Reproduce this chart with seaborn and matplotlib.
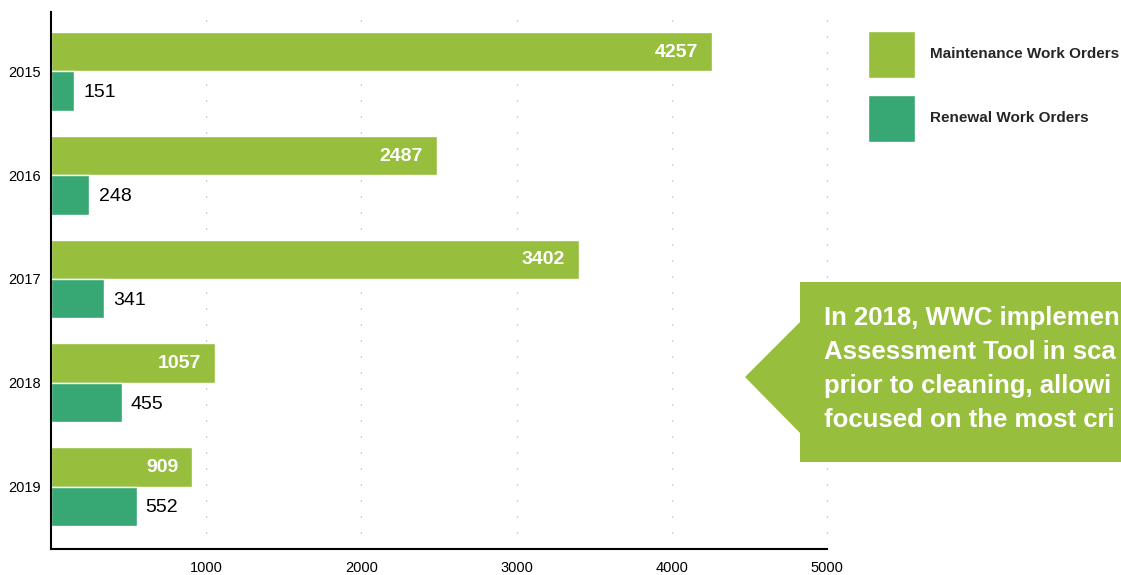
import matplotlib
matplotlib.use("Agg")
import matplotlib.pyplot as plt
from matplotlib.patches import Polygon
import seaborn as sns
import pandas as pd

years = ["2015", "2016", "2017", "2018", "2019"]
maintenance = [4257, 2487, 3402, 1057, 909]
renewal = [151, 248, 341, 455, 552]
series_names = ["Maintenance Work Orders", "Renewal Work Orders"]
x_ticks = [1000, 2000, 3000, 4000, 5000]
callout_lines = [
    "In 2018, WWC implemen",
    "Assessment Tool in sca",
    "prior to cleaning, allowi",
    "focused on the most cri",
]

LIGHT = "#97BE3D"
DARK = "#37A774"

sns.set_theme(style="white")
plt.rcParams["font.family"] = ["Liberation Sans", "DejaVu Sans"]

df = pd.DataFrame({
    "year": years * 2,
    "value": maintenance + renewal,
    "series": [series_names[0]] * len(years) + [series_names[1]] * len(years),
})

W, H = 1121, 575
fig = plt.figure(figsize=(W / 100, H / 100), dpi=100)
ax = fig.add_axes([51 / W, 1 - 549 / H, (827 - 51) / W, (549 - 12) / H])

sns.barplot(data=df, y="year", x="value", hue="series", order=years,
            hue_order=series_names, palette=[LIGHT, DARK], orient="h",
            width=0.76, dodge=True, saturation=1, ax=ax, legend=True)

ax.set_xlim(0, 5000)
ax.set_ylim(4.602, -0.573)
ax.set_xticks(x_ticks)
ax.set_xticklabels([str(t) for t in x_ticks])
ax.set_xlabel("")
ax.set_ylabel("")
ax.tick_params(axis="both", length=0, labelsize=10.5, colors="black")
ax.tick_params(axis="x", pad=8.5)
ax.tick_params(axis="y", pad=7)

for s in ["top", "right"]:
    ax.spines[s].set_visible(False)
for s in ["left", "bottom"]:
    ax.spines[s].set_color("black")
    ax.spines[s].set_linewidth(1.5)

ax.set_axisbelow(True)
ax.xaxis.grid(True, color="#a0a0a0", linewidth=0.9, linestyle=(0, (0.8, 12.0)))
ax.yaxis.grid(False)
for gl in ax.get_xgridlines():
    gl.set_clip_on(False)

# value labels
for i, cont in enumerate(ax.containers):
    for patch in cont:
        w = patch.get_width()
        yc = patch.get_y() + patch.get_height() / 2
        if i == 0:
            ax.annotate(f"{int(round(w))}", (w, yc), xytext=(-10, -0.5),
                        textcoords="offset points", ha="right", va="center",
                        color="white", fontsize=14, fontweight="bold")
        else:
            ax.annotate(f"{int(round(w))}", (w, yc), xytext=(6.5, -1.2),
                        textcoords="offset points", ha="left", va="center",
                        color="black", fontsize=14)

# legend
handles, labels = ax.get_legend_handles_labels()
ax.get_legend().remove()
fig.legend(handles, labels, loc="upper left",
           bbox_to_anchor=(868 / W, 1 - 31 / H), frameon=False,
           borderpad=0, borderaxespad=0, handlelength=3.05, handleheight=4.356,
           handletextpad=1.0, labelspacing=1.1,
           prop={"size": 11, "weight": "bold"})

# callout
pts = [(800, 282), (1130, 282), (1130, 462), (800, 462), (800, 433),
       (745, 377), (800, 322)]
poly = Polygon([(x / W, 1 - y / H) for x, y in pts], closed=True,
               transform=fig.transFigure, facecolor=LIGHT, edgecolor="none")
fig.patches.append(poly)
baselines = [325, 359, 393, 427]
for line, yb in zip(callout_lines, baselines):
    fig.text(824 / W, 1 - yb / H, line, color="white", fontsize=18.5,
             fontweight="bold", ha="left", va="baseline")

fig.savefig("out.png", dpi=100)
